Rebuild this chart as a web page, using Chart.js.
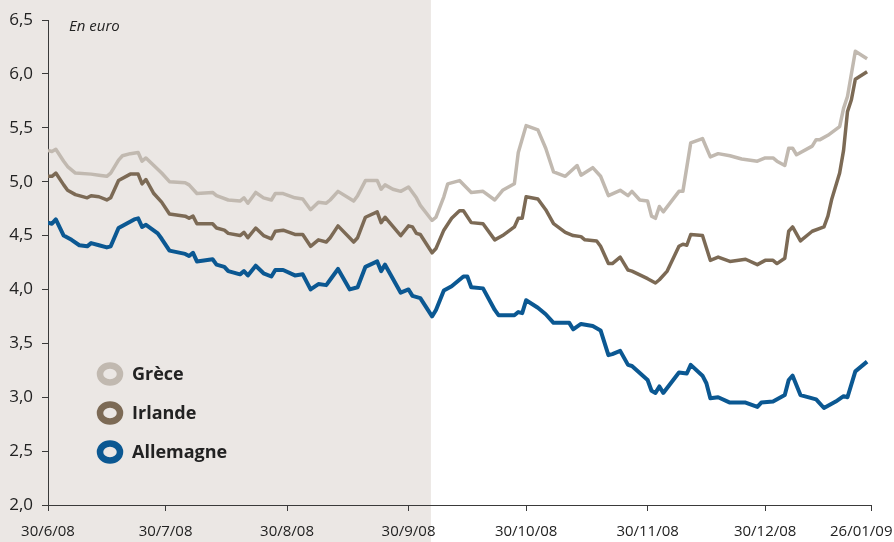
<!DOCTYPE html>
<html lang="fr">
<head>
<meta charset="utf-8">
<title>Rendements des emprunts d'Etat</title>
<script src="https://cdn.jsdelivr.net/npm/chart.js@4.4.1/dist/chart.umd.min.js"></script>
<style>
  html, body { margin: 0; padding: 0; background: #fff; }
  #wrap { width: 894px; height: 542px; position: relative; }
</style>
</head>
<body>
<div id="wrap"><canvas id="taux"></canvas></div>
<script>
// --- Data (x = days since 30/6/08) ---
var tickDays = [0, 30, 61, 92, 122, 153, 183, 210];
// the last label is padded so it sits inside the canvas, as in the original
var tickLabels = ['30/6/08', '30/7/08', '30/8/08', '30/9/08', '30/10/08', '30/11/08', '30/12/08', '26/01/09     '];
var yTicks = [2.0, 2.5, 3.0, 3.5, 4.0, 4.5, 5.0, 5.5, 6.0, 6.5];
var seriesNames = ['Grèce', 'Irlande', 'Allemagne'];
var shadeEndDay = 97.7;

var greceDays = [0, 1, 2, 4, 5, 7, 11, 13, 15, 16, 18, 19, 21, 23, 24, 25, 27, 29, 31, 35, 36, 38, 42, 43, 46, 49, 50, 51, 53, 55,
  57, 58, 60, 63, 65, 67, 69, 71, 72, 74, 78, 79, 81, 84, 85, 86, 88, 90, 92, 94, 95, 98, 99, 101, 102, 105, 108, 111, 114, 116,
  119, 120, 122, 125, 127, 129, 132, 135, 136, 139, 141, 143, 146, 148, 149, 151, 153, 154, 155, 156, 157, 161, 162, 164, 167, 169, 171, 174, 177, 181,
  183, 185, 186, 188, 189, 190, 191, 195, 196, 197, 199, 202, 203, 204, 206, 209];
var greceValues = [5.29, 5.28, 5.30, 5.19, 5.14, 5.08, 5.07, 5.06, 5.05, 5.08, 5.20, 5.24, 5.26, 5.27, 5.19, 5.22, 5.15, 5.08, 5.00, 4.99, 4.97, 4.89, 4.90, 4.87, 4.83, 4.82, 4.85, 4.80, 4.90, 4.85,
  4.83, 4.89, 4.89, 4.85, 4.84, 4.74, 4.81, 4.80, 4.83, 4.91, 4.82, 4.87, 5.01, 5.01, 4.93, 4.97, 4.93, 4.91, 4.95, 4.85, 4.78, 4.64, 4.67, 4.86, 4.98, 5.01, 4.90, 4.91, 4.83, 4.92,
  4.98, 5.27, 5.52, 5.48, 5.31, 5.09, 5.05, 5.15, 5.06, 5.13, 5.05, 4.87, 4.92, 4.87, 4.91, 4.83, 4.82, 4.68, 4.66, 4.77, 4.72, 4.91, 4.91, 5.36, 5.40, 5.23, 5.26, 5.24, 5.21, 5.19,
  5.22, 5.22, 5.19, 5.15, 5.31, 5.31, 5.25, 5.33, 5.39, 5.39, 5.43, 5.51, 5.68, 5.79, 6.21, 6.14];

var irlandeDays = [0, 1, 2, 4, 5, 7, 10, 11, 13, 15, 16, 18, 21, 23, 24, 25, 27, 29, 31, 35, 36, 37, 38, 42, 43, 45, 46, 49, 50, 51,
  53, 55, 57, 58, 60, 63, 65, 67, 69, 71, 72, 74, 78, 79, 81, 84, 85, 86, 90, 92, 93, 94, 95, 98, 99, 101, 103, 105, 106, 108,
  111, 114, 116, 119, 120, 121, 122, 125, 127, 129, 132, 134, 136, 137, 140, 141, 143, 144, 146, 148, 149, 153, 155, 156, 158, 161, 162, 163, 164, 167,
  169, 171, 174, 178, 181, 183, 185, 186, 188, 189, 190, 192, 195, 198, 199, 200, 202, 203, 204, 205, 206, 209];
var irlandeValues = [5.05, 5.05, 5.08, 4.97, 4.92, 4.88, 4.85, 4.87, 4.86, 4.83, 4.85, 5.01, 5.07, 5.07, 4.98, 5.02, 4.89, 4.81, 4.70, 4.68, 4.66, 4.68, 4.61, 4.61, 4.57, 4.55, 4.52, 4.50, 4.53, 4.48,
  4.57, 4.50, 4.47, 4.54, 4.55, 4.51, 4.51, 4.40, 4.46, 4.44, 4.48, 4.59, 4.44, 4.48, 4.67, 4.72, 4.62, 4.67, 4.50, 4.59, 4.58, 4.52, 4.51, 4.34, 4.38, 4.55, 4.66, 4.73, 4.73, 4.62,
  4.61, 4.46, 4.50, 4.58, 4.66, 4.66, 4.86, 4.84, 4.74, 4.61, 4.53, 4.50, 4.49, 4.46, 4.45, 4.40, 4.24, 4.24, 4.30, 4.18, 4.17, 4.10, 4.06, 4.09, 4.17, 4.40, 4.42, 4.41, 4.51, 4.50,
  4.27, 4.30, 4.26, 4.28, 4.23, 4.27, 4.27, 4.24, 4.29, 4.54, 4.58, 4.45, 4.54, 4.58, 4.68, 4.84, 5.08, 5.29, 5.65, 5.76, 5.95, 6.02];

var allemagneDays = [0, 1, 2, 4, 6, 8, 10, 11, 13, 15, 16, 18, 20, 22, 23, 24, 25, 28, 29, 31, 35, 36, 37, 38, 42, 43, 45, 46, 49, 50,
  51, 53, 55, 57, 58, 60, 63, 65, 67, 69, 71, 72, 74, 77, 79, 81, 84, 85, 86, 90, 92, 93, 95, 98, 99, 101, 103, 104, 106, 107,
  108, 111, 114, 115, 119, 120, 121, 122, 125, 127, 129, 133, 134, 136, 139, 141, 143, 144, 146, 148, 149, 153, 154, 155, 156, 157, 161, 163, 164, 167,
  168, 169, 171, 174, 178, 181, 182, 185, 188, 189, 190, 192, 196, 198, 201, 203, 204, 206, 209];
var allemagneValues = [4.62, 4.61, 4.65, 4.50, 4.46, 4.41, 4.40, 4.43, 4.41, 4.39, 4.40, 4.57, 4.61, 4.65, 4.66, 4.58, 4.60, 4.52, 4.47, 4.36, 4.33, 4.31, 4.34, 4.26, 4.28, 4.23, 4.21, 4.17, 4.14, 4.17,
  4.13, 4.22, 4.15, 4.12, 4.18, 4.18, 4.13, 4.14, 4.00, 4.05, 4.04, 4.09, 4.19, 4.00, 4.02, 4.21, 4.26, 4.17, 4.23, 3.97, 4.00, 3.94, 3.92, 3.75, 3.81, 3.99, 4.03, 4.06, 4.12, 4.12,
  4.02, 4.01, 3.81, 3.76, 3.76, 3.79, 3.78, 3.90, 3.83, 3.77, 3.69, 3.69, 3.63, 3.68, 3.66, 3.62, 3.39, 3.40, 3.43, 3.30, 3.29, 3.16, 3.06, 3.04, 3.10, 3.04, 3.23, 3.22, 3.30, 3.20,
  3.13, 2.99, 3.00, 2.95, 2.95, 2.91, 2.95, 2.96, 3.02, 3.16, 3.20, 3.02, 2.98, 2.90, 2.96, 3.01, 3.00, 3.24, 3.33];

// --- Colours ---
var shade = '#ebe7e4';
var axisColor = '#3a3a3a';
var textColor = '#222222';
var colGrece = '#c1b9b0';
var colIrlande = '#7c6a55';
var colAllemagne = '#0b5892';
var fontFamily = "'Open Sans', 'Noto Sans', sans-serif";

function toPoints(days, values) {
  return days.map(function (d, i) { return { x: d, y: values[i] }; });
}

// background shading, "En euro" note and ring legend
var decorPlugin = {
  id: 'decor',
  beforeDraw: function (chart) {
    var ctx = chart.ctx;
    var xEnd = chart.scales.x.getPixelForValue(shadeEndDay);
    ctx.save();
    ctx.fillStyle = '#ffffff';
    ctx.fillRect(0, 0, chart.width, chart.height);
    ctx.fillStyle = shade;
    ctx.fillRect(0, 0, xEnd, chart.height);
    ctx.restore();
  },
  afterDraw: function (chart) {
    var ctx = chart.ctx;
    var left = chart.chartArea.left;
    ctx.save();
    ctx.fillStyle = textColor;
    ctx.font = 'italic 15px ' + fontFamily;
    ctx.textBaseline = 'middle';
    ctx.textAlign = 'left';
    ctx.fillText('En euro', left + 21, 27);

    var colors = [colGrece, colIrlande, colAllemagne];
    var rows = [374, 413, 452];
    for (var i = 0; i < seriesNames.length; i++) {
      ctx.beginPath();
      ctx.ellipse(left + 62, rows[i], 10, 8.5, 0, 0, Math.PI * 2);
      ctx.lineWidth = 6.5;
      ctx.strokeStyle = colors[i];
      ctx.stroke();
      ctx.fillStyle = textColor;
      ctx.font = 'bold 18px ' + fontFamily;
      ctx.fillText(seriesNames[i], left + 84, rows[i] + 1);
    }
    ctx.restore();
  }
};

function lineSet(label, days, values, color, width) {
  return {
    label: label,
    data: toPoints(days, values),
    borderColor: color,
    backgroundColor: color,
    borderWidth: width,
    pointRadius: 0,
    tension: 0,
    borderJoinStyle: 'round',
    borderCapStyle: 'butt',
    fill: false
  };
}

new Chart(document.getElementById('taux'), {
  type: 'line',
  data: {
    datasets: [
      lineSet('Allemagne', allemagneDays, allemagneValues, colAllemagne, 4),
      lineSet('Irlande', irlandeDays, irlandeValues, colIrlande, 3.5),
      lineSet('Grèce', greceDays, greceValues, colGrece, 3.5)
    ]
  },
  options: {
    responsive: true,
    maintainAspectRatio: false,
    animation: false,
    events: [],
    layout: { padding: { top: 20, right: 23, bottom: 0, left: 0 } },
    scales: {
      x: {
        type: 'linear',
        min: 0,
        max: 210,
        afterBuildTicks: function (scale) {
          scale.ticks = tickDays.map(function (d) { return { value: d }; });
        },
        afterFit: function (scale) {
          scale.height = 37;
          scale.paddingLeft = 0;
          scale.paddingRight = 0;
        },
        grid: { drawOnChartArea: false, drawTicks: true, tickLength: 6, color: axisColor, lineWidth: 1 },
        border: { display: true, color: axisColor, width: 1 },
        ticks: {
          autoSkip: false,
          maxRotation: 0,
          padding: 12,
          color: textColor,
          font: { family: fontFamily, size: 15 },
          callback: function (val, idx) { return tickLabels[idx]; }
        }
      },
      y: {
        min: 2,
        max: 6.5,
        afterBuildTicks: function (scale) {
          scale.ticks = yTicks.map(function (v) { return { value: v }; });
        },
        afterFit: function (scale) { scale.width = 48; },
        grid: { drawOnChartArea: false, drawTicks: true, tickLength: 6, color: axisColor, lineWidth: 1 },
        border: { display: true, color: axisColor, width: 1 },
        ticks: {
          padding: 9,
          color: textColor,
          font: { family: fontFamily, size: 17 },
          callback: function (val) { return val.toFixed(1).replace('.', ','); }
        }
      }
    },
    plugins: {
      legend: { display: false },
      tooltip: { enabled: false }
    }
  },
  plugins: [decorPlugin]
});
</script>
</body>
</html>
